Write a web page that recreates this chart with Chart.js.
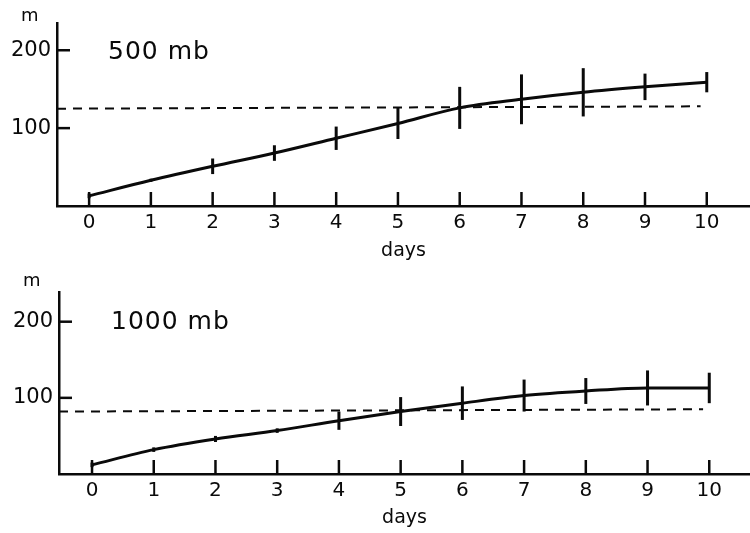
<!DOCTYPE html>
<html>
<head>
<meta charset="utf-8">
<script src="https://cdn.jsdelivr.net/npm/chart.js@4.4.1/dist/chart.umd.min.js"></script>
<style>
  html, body { margin: 0; padding: 0; background: #fff; }
  #wrap { position: relative; width: 750px; height: 533px; }
  .panel { position: absolute; left: 0; width: 750px; }
  #top-panel { top: 0; height: 266px; }
  #bottom-panel { top: 266px; height: 267px; }
</style>
</head>
<body>
<div id="wrap">
  <div class="panel" id="top-panel"><canvas id="chart-500"></canvas></div>
  <div class="panel" id="bottom-panel"><canvas id="chart-1000"></canvas></div>
</div>
<script>
const days = [0, 1, 2, 3, 4, 5, 6, 7, 8, 9, 10];
const yTicks = [100, 200];

// 500 mb panel
const error500 = [13, 33, 51, 68, 87, 106, 126, 137, 146, 153, 159];
const spread500 = [3, 2, 10, 10, 15, 20, 27, 32, 31, 17, 13];
const reference500 = [125, 128];

// 1000 mb panel
const error1000 = [12, 32, 46, 57, 70, 82, 93, 103, 109, 113, 113];
const spread1000 = [3, 3, 4, 3, 12, 19, 22, 21, 17, 23, 20];
const reference1000 = [82, 85];

const INK = '#0a0a0a';
const FONT = "'DejaVu Sans', Verdana, sans-serif";

// vertical error bars drawn through the chart's own scales
const errorBars = {
  id: 'errorBars',
  afterDatasetsDraw(chart, args, opts) {
    const { ctx, scales: { x, y } } = chart;
    ctx.save();
    ctx.strokeStyle = INK;
    ctx.lineWidth = 3;
    opts.values.forEach((v, i) => {
      const px = x.getPixelForValue(days[i]);
      ctx.beginPath();
      ctx.moveTo(px, y.getPixelForValue(v + opts.spread[i]));
      ctx.lineTo(px, y.getPixelForValue(v - opts.spread[i]));
      ctx.stroke();
    });
    ctx.restore();
  }
};

// tick marks pointing into the plot, plus the "m" unit and panel label
const innerTicks = {
  id: 'innerTicks',
  afterDraw(chart, args, opts) {
    const { ctx, chartArea, scales: { x, y } } = chart;
    ctx.save();
    ctx.strokeStyle = INK;
    ctx.lineWidth = 2.5;
    x.ticks.forEach(t => {
      const px = x.getPixelForValue(t.value);
      ctx.beginPath();
      ctx.moveTo(px, chartArea.bottom);
      ctx.lineTo(px, chartArea.bottom - 14);
      ctx.stroke();
    });
    y.ticks.forEach(t => {
      const py = y.getPixelForValue(t.value);
      ctx.beginPath();
      ctx.moveTo(chartArea.left, py);
      ctx.lineTo(chartArea.left + 13, py);
      ctx.stroke();
    });
    ctx.fillStyle = INK;
    ctx.textBaseline = 'middle';
    ctx.font = '18px ' + FONT;
    ctx.fillText('m', opts.unitX, opts.unitY);
    ctx.font = '25px ' + FONT;
    ctx.letterSpacing = '1px';
    ctx.fillText(opts.label, opts.labelX, opts.labelY);
    ctx.restore();
  }
};

function makePanel(id, cfg) {
  return new Chart(document.getElementById(id), {
    type: 'line',
    data: {
      datasets: [
        {
          data: days.map((d, i) => ({ x: d, y: cfg.values[i] })),
          borderColor: INK,
          borderWidth: 3,
          pointRadius: 0,
          cubicInterpolationMode: 'monotone',
        },
        {
          data: [
            { x: cfg.xMin, y: cfg.reference[0] },
            { x: 9.9, y: cfg.reference[1] },
          ],
          borderColor: INK,
          borderWidth: 2,
          borderDash: [9, 7],
          pointRadius: 0,
        },
      ],
    },
    options: {
      responsive: true,
      maintainAspectRatio: false,
      animation: false,
      layout: { padding: { top: cfg.top, right: 0, left: 0, bottom: 0 } },
      scales: {
        x: {
          type: 'linear',
          min: cfg.xMin,
          max: cfg.xMax,
          afterBuildTicks(scale) { scale.ticks = days.map(v => ({ value: v })); },
          afterFit(scale) { scale.height = cfg.xHeight; },
          grid: { display: false, drawTicks: false },
          border: { color: INK, width: 2.5 },
          ticks: { color: INK, padding: 5, font: { family: FONT, size: 20 } },
          title: {
            display: true,
            text: 'days',
            color: INK,
            padding: { top: 9 },
            font: { family: FONT, size: 19 },
          },
        },
        y: {
          min: 0,
          max: cfg.yMax,
          afterBuildTicks(scale) { scale.ticks = yTicks.map(v => ({ value: v })); },
          afterFit(scale) { scale.width = cfg.yWidth; },
          grid: { display: false, drawTicks: false },
          border: { color: INK, width: 2.5 },
          ticks: { color: INK, padding: 6, font: { family: FONT, size: 21 } },
        },
      },
      plugins: {
        legend: { display: false },
        tooltip: { enabled: false },
        errorBars: { values: cfg.values, spread: cfg.spread },
        innerTicks: cfg.text,
      },
    },
    plugins: [errorBars, innerTicks],
  });
}

makePanel('chart-500', {
  values: error500,
  spread: spread500,
  reference: reference500,
  xMin: -0.52,
  xMax: 10.7,
  yMax: 235,
  top: 23,
  xHeight: 60,
  yWidth: 57,
  text: { label: '500 mb', labelX: 108, labelY: 52, unitX: 21, unitY: 16 },
});

makePanel('chart-1000', {
  values: error1000,
  spread: spread1000,
  reference: reference1000,
  xMin: -0.535,
  xMax: 10.66,
  yMax: 239,
  top: 26,
  xHeight: 59,
  yWidth: 59,
  text: { label: '1000 mb', labelX: 111, labelY: 56, unitX: 23, unitY: 15 },
});
</script>
</body>
</html>
